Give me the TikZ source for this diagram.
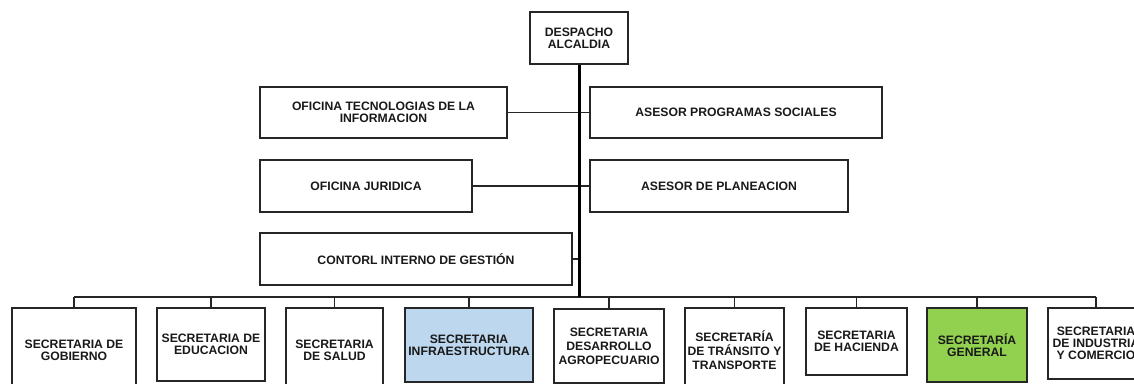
\documentclass[tikz,border=0pt]{standalone}
\usepackage{fontspec}
\setmainfont{Liberation Sans}
\definecolor{infrablue}{HTML}{BDD7EE}
\definecolor{genGreen}{HTML}{92D050}
\definecolor{edge}{HTML}{262626}
\begin{document}
\begin{tikzpicture}[x=1pt,y=-1pt,
  box/.style={draw=edge, line width=1.3pt, inner sep=0pt, align=center,
    text=black!90, font=\bfseries\fontsize{12.2}{11.8}\selectfont},
  wide/.style={font=\bfseries\fontsize{12.2}{14}\selectfont},
  thin/.style={draw=edge, line width=1.4pt},
  spine/.style={draw=black, line width=3pt}]
\useasboundingbox (0,0) rectangle (1134,383);
\clip (0,0) rectangle (1134,383);
% top office
\node[box, minimum width=98, minimum height=52] (desp) at (579,38) {DESPACHO\\ALCALDIA};
% staff offices
\node[box, minimum width=247, minimum height=51] (tec) at (383.5,112.5) {OFICINA TECNOLOGIAS DE LA\\INFORMACION};
\node[box, minimum width=292, minimum height=51] (aps) at (736,112.5) {ASESOR PROGRAMAS SOCIALES};
\node[box, minimum width=212, minimum height=52] (jur) at (366,186) {OFICINA JURIDICA};
\node[box, minimum width=258, minimum height=52] (plan) at (719,186) {ASESOR DE PLANEACION};
\node[box, minimum width=312, minimum height=52] (ci) at (416,259) {CONTORL INTERNO DE GESTIÓN};
% bus
\coordinate (bus) at (579,297);
\coordinate (busL) at (74,297);
\coordinate (busR) at (1096,297);
% secretarias
\node[box, minimum width=124, minimum height=84] (s1) at (74,350) {SECRETARIA DE\\GOBIERNO};
\node[box, minimum width=108, minimum height=73] (s2) at (211,344.5) {SECRETARIA DE\\EDUCACION};
\node[box, minimum width=97, minimum height=84] (s3) at (334.5,350) {SECRETARIA\\DE SALUD};
\node[box, fill=infrablue, minimum width=128, minimum height=74] (s4) at (469,345) {SECRETARIA\\INFRAESTRUCTURA};
\node[box, wide, minimum width=110, minimum height=74] (s5) at (609,346) {SECRETARIA\\DESARROLLO\\AGROPECUARIO};
\node[box, wide, minimum width=99, minimum height=84] (s6) at (734.5,350) {SECRETARÍA\\DE TRÁNSITO Y\\TRANSPORTE};
\node[box, minimum width=101, minimum height=67] (s7) at (856.5,341.5) {SECRETARIA\\DE HACIENDA};
\node[box, fill=genGreen, minimum width=100, minimum height=74] (s8) at (977,345) {SECRETARÍA\\GENERAL};
\node[box, minimum width=96, minimum height=71] (s9) at (1096,343.5) {SECRETARIA\\DE INDUSTRIA\\Y COMERCIO};
% connectors
\draw[thin] (tec.east) -- (tec.east -| desp.south);
\draw[thin] (aps.west) -- (aps.west -| desp.south);
\draw[thin] (jur.east) -- (jur.east -| desp.south);
\draw[thin] (plan.west) -- (plan.west -| desp.south);
\draw[thin] (ci.east) -- (ci.east -| desp.south);
\draw[thin] (busL) -- (busR);
\foreach \n in {s1,s2,s3,s4,s5,s6,s7,s8,s9}
  \draw[thin] (\n.north) -- (\n.north |- bus);
\draw[spine] (desp.south) -- (bus);
\end{tikzpicture}
\end{document}
